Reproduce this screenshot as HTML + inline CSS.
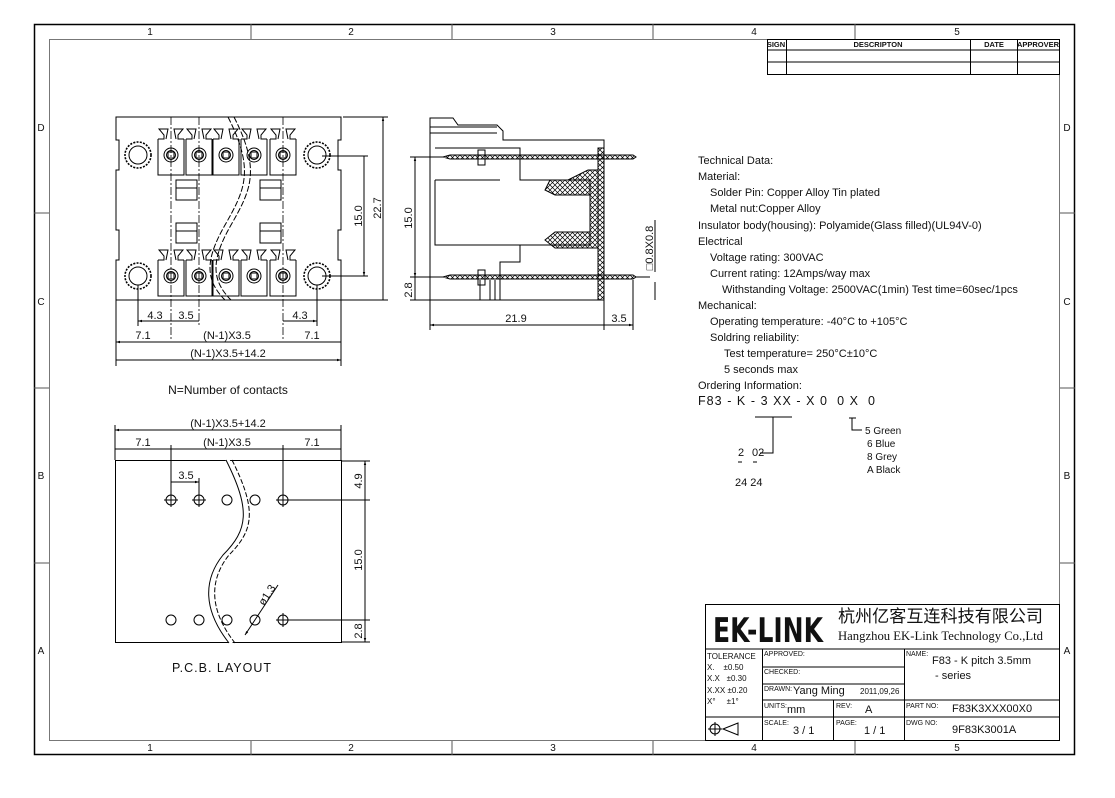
<!DOCTYPE html>
<html><head><meta charset="utf-8"><style>
html,body{margin:0;padding:0;background:#fff}
svg{display:block}
text{font-family:"Liberation Sans","Noto Sans CJK SC",sans-serif;fill:#111}
</style></head><body>
<svg width="1115" height="798" viewBox="0 0 1115 798" xmlns="http://www.w3.org/2000/svg">
<defs>
<pattern id="xh" width="5" height="5" patternUnits="userSpaceOnUse">
<path d="M0,0L5,5M5,0L0,5" stroke="#000" stroke-width="0.7"/></pattern>
<marker id="ar" viewBox="0 0 10 10" refX="10" refY="5" markerWidth="6" markerHeight="4" orient="auto-start-reverse"><path d="M0,2L10,5L0,8z" fill="#000"/></marker>
</defs>
<g fill="none" stroke="#000" stroke-width="1">
<rect x="34.5" y="24.5" width="1040" height="730" stroke-width="1.5"/>
<rect x="49.5" y="39.5" width="1010" height="701" stroke="#777"/>
<path d="M251,24V39M452,24V39M653,24V39M855,24V39M251,741V755M452,741V755M653,741V755M855,741V755M34,213H49M34,388H49M34,563H49M1060,213H1075M1060,388H1075M1060,563H1075" stroke="#555"/>
</g>
<g font-size="10" text-anchor="middle">
<text x="150" y="35">1</text><text x="351" y="35">2</text><text x="553" y="35">3</text><text x="754" y="35">4</text><text x="957" y="35">5</text>
<text x="150" y="751">1</text><text x="351" y="751">2</text><text x="553" y="751">3</text><text x="754" y="751">4</text><text x="957" y="751">5</text>
<text x="41" y="131">D</text><text x="41" y="305">C</text><text x="41" y="479">B</text><text x="41" y="654">A</text>
<text x="1067" y="131">D</text><text x="1067" y="305">C</text><text x="1067" y="479">B</text><text x="1067" y="654">A</text>
</g>
<g fill="none" stroke="#000" stroke-width="1">
<rect x="767.5" y="39.5" width="292" height="35"/>
<path d="M767,50H1060M767,62H1060M786.5,39V75M970.5,39V75M1017.5,39V75"/>
</g>
<g font-size="7.5" font-weight="bold" text-anchor="middle">
<text x="776" y="47">SIGN</text><text x="878" y="47">DESCRIPTON</text><text x="994" y="47">DATE</text><text x="1038" y="47">APPROVER</text>
</g>

<!-- FRONT VIEW -->
<g fill="none" stroke="#000" stroke-width="1">
<path d="M116,117H341V140H338V170H341V230H338V260H341V300H116V260H119V230H116V170H119V140H116Z"/>
<g id="tt">
<path d="M158,139V175H184V139M158,139H164V135L159,129H168L166,139M184,139H178V135L183,129H174L176,139"/>
<circle cx="171" cy="155" r="7"/><circle cx="171" cy="155" r="4.5"/><rect x="168" y="152" width="6" height="6"/>
</g>
<use href="#tt" x="28"/><use href="#tt" x="55"/><use href="#tt" x="83"/><use href="#tt" x="112"/>
<g id="tb">
<path d="M158,260V296H184V260M158,260H164V256L159,250H168L166,260M184,260H178V256L183,250H174L176,260"/>
<circle cx="171" cy="276" r="7"/><circle cx="171" cy="276" r="4.5"/><rect x="168" y="273" width="6" height="6"/>
</g>
<use href="#tb" x="28"/><use href="#tb" x="55"/><use href="#tb" x="83"/><use href="#tb" x="112"/>
<rect x="176" y="180" width="21" height="20"/><path d="M176,188H197"/>
<rect x="260" y="180" width="21" height="20"/><path d="M260,188H281"/>
<rect x="176" y="223" width="21" height="20"/><path d="M176,231H197"/>
<rect x="260" y="223" width="21" height="20"/><path d="M260,231H281"/>
<g id="mh"><circle cx="138" cy="155" r="13" stroke-dasharray="2 1.3" stroke-width="1.6"/><circle cx="138" cy="155" r="9"/></g>
<use href="#mh" y="121"/><use href="#mh" x="179"/><use href="#mh" x="179" y="121"/>
<path d="M228,117C255,170 245,190 225,225C205,260 205,280 225,300" stroke-dasharray="6 2"/>
<path d="M234,117C261,170 251,190 231,225C211,260 211,280 231,300" stroke-dasharray="6 2"/>
<path d="M171,117V340M199,117V325M283,117V340" stroke-dasharray="8 2 2 2" stroke-width="0.8"/>
<path d="M343,117H388M322,156H368M322,276H368M341,300H388"/>
<path d="M383,117V300M364,156V276" marker-start="url(#ar)" marker-end="url(#ar)"/>
<path d="M116,300V366M341,300V366M138,285V326M317,285V326"/>
<path d="M138,321H171M171,321H199M283,321H317" marker-start="url(#ar)" marker-end="url(#ar)"/>
<path d="M116,342H171M171,342H283M283,342H341M116,360H341" marker-start="url(#ar)" marker-end="url(#ar)"/>
</g>
<g font-size="11" text-anchor="middle">
<text x="155" y="319">4.3</text><text x="186" y="319">3.5</text><text x="300" y="319">4.3</text>
<text x="143" y="339">7.1</text><text x="227" y="339">(N-1)X3.5</text><text x="312" y="339">7.1</text>
<text x="228" y="357">(N-1)X3.5+14.2</text>
<text transform="translate(362,216) rotate(-90)">15.0</text>
<text transform="translate(381,208) rotate(-90)">22.7</text>
<text x="228" y="394" font-size="12">N=Number of contacts</text>
</g>

<!-- SIDE VIEW -->
<g fill="none" stroke="#000" stroke-width="1">
<path d="M430,118H453L458,125H497L503,131V140H604V300H430Z"/>
<path d="M430,127H497M430,133H497M435,148H520V180H590V245H520V262H500V300"/>
<path d="M435,180V245H520M435,180H500"/>
<rect x="598" y="148" width="6" height="152" fill="url(#xh)"/>
<path d="M598,170H588L568,180H550L545,190L555,195H590V232H555L545,240L555,248H598Z" fill="url(#xh)"/>
<path d="M443,157L450,155H633L636,157L633,159H450Z" fill="url(#xh)"/>
<path d="M443,277L450,275H633L636,277L633,279H450Z" fill="url(#xh)"/>
<rect x="478" y="150" width="7" height="15"/><rect x="478" y="270" width="7" height="15"/>
<path d="M480,280V300M490,280V300M495,280V300"/>
<path d="M410,157H443M410,277H443M410,300H430M636,277H650"/>
<path d="M415,157V277" marker-start="url(#ar)" marker-end="url(#ar)"/>
<path d="M415,277V300"/>
<path d="M430,300V330M604,300V330M633,280V330"/>
<path d="M430,325H604M604,325H633" marker-start="url(#ar)" marker-end="url(#ar)"/>
<path d="M655,220V272M655,282V300"/>
</g>
<g font-size="11" text-anchor="middle">
<text transform="translate(412,218) rotate(-90)">15.0</text>
<text transform="translate(412,290) rotate(-90)">2.8</text>
<text x="516" y="322">21.9</text><text x="619" y="322">3.5</text>
<text transform="translate(653,248) rotate(-90)">□0.8X0.8</text>
</g>

<!-- PCB LAYOUT -->
<g fill="none" stroke="#000" stroke-width="1">
<rect x="115.5" y="460.5" width="226" height="182"/>
<path d="M227,460C252,510 250,530 225,555C205,580 205,610 232,643" fill="#fff" stroke="#fff" stroke-width="5"/>
<path d="M226,460C251,510 248,530 223,555C203,580 203,610 229,643"/>
<path d="M232,460C257,510 254,530 229,555C209,580 209,610 235,643" stroke-dasharray="5 2"/>
<g id="hc"><circle cx="171" cy="500" r="5"/><path d="M164,500H178M171,493V507"/></g>
<use href="#hc" x="28"/><circle cx="227" cy="500" r="5"/><circle cx="255" cy="500" r="5"/><use href="#hc" x="112"/>
<circle cx="171" cy="620" r="5"/><circle cx="199" cy="620" r="5"/><circle cx="227" cy="620" r="5"/><circle cx="255" cy="620" r="5"/><use href="#hc" x="112" y="120"/>
<path d="M115,425V460M341,425V460M171,445V495M283,445V495M199,478V495"/>
<path d="M115,430H341M115,449H171M171,449H283M283,449H341M171,482H199" marker-start="url(#ar)" marker-end="url(#ar)"/>
<path d="M290,500H370M290,620H370M341,642H370M341,461H370"/>
<path d="M365,461V500M365,500V620M365,620V642" marker-start="url(#ar)" marker-end="url(#ar)"/>
<path d="M245,635L278,585" marker-start="url(#ar)"/>
</g>
<g font-size="11" text-anchor="middle">
<text x="228" y="427">(N-1)X3.5+14.2</text>
<text x="143" y="446">7.1</text><text x="227" y="446">(N-1)X3.5</text><text x="312" y="446">7.1</text>
<text x="186" y="479">3.5</text>
<text transform="translate(362,481) rotate(-90)">4.9</text>
<text transform="translate(362,560) rotate(-90)">15.0</text>
<text transform="translate(362,631) rotate(-90)">2.8</text>
<text transform="translate(270,597) rotate(-57)">ø1.3</text>
<text x="222" y="672" font-size="12.5" letter-spacing="1">P.C.B.  LAYOUT</text>
</g>

<!-- TECH TEXT -->
<g font-size="11">
<text x="698" y="164">Technical Data:</text>
<text x="698" y="180">Material:</text>
<text x="710" y="196">Solder Pin: Copper Alloy Tin plated</text>
<text x="710" y="212">Metal nut:Copper Alloy</text>
<text x="698" y="229">Insulator body(housing): Polyamide(Glass filled)(UL94V-0)</text>
<text x="698" y="245">Electrical</text>
<text x="710" y="261">Voltage rating: 300VAC</text>
<text x="710" y="277">Current rating: 12Amps/way max</text>
<text x="722" y="293">Withstanding Voltage: 2500VAC(1min) Test time=60sec/1pcs</text>
<text x="698" y="309">Mechanical:</text>
<text x="710" y="325">Operating temperature: -40°C to +105°C</text>
<text x="710" y="341">Soldring reliability:</text>
<text x="724" y="357">Test temperature= 250°C±10°C</text>
<text x="724" y="373">5 seconds max</text>
<text x="698" y="389">Ordering Information:</text>
<text x="698" y="405" font-size="12.5" xml:space="preserve" textLength="177" lengthAdjust="spacing">F83 - K - 3 XX - X 0  0 X  0</text>
<text x="738" y="456">2</text><text x="752" y="456">02</text>
<text x="735" y="486">24  24</text>
<text x="865" y="434" font-size="10">5  Green</text>
<text x="867" y="447" font-size="10">6  Blue</text>
<text x="867" y="460" font-size="10">8  Grey</text>
<text x="867" y="473" font-size="10">A  Black</text>
</g>
<g fill="none" stroke="#000" stroke-width="1">
<path d="M755,417H792M773,417V453H760M738,462H742M753,462H757"/>
<path d="M849,418H856M852,418V430H862"/>
</g>

<!-- TITLE BLOCK -->
<g fill="none" stroke="#000" stroke-width="1">
<rect x="705.5" y="604.5" width="354" height="136"/>
<path d="M705,649H1060M762.5,649V741M762,667H904M762,684H904M762,700H904M904,700H1060M705,717H1060M904.5,649V741M833.5,700V741"/>
<circle cx="715" cy="729" r="5"/><path d="M708,729H722M715,722V736M723,729L738,723V735Z"/>
</g>
<text x="713" y="642" font-size="34" font-weight="bold" style="font-family:'DejaVu Sans Condensed','Liberation Sans',sans-serif" textLength="110" lengthAdjust="spacingAndGlyphs">EK-LINK</text>
<text x="838" y="622" font-size="17" style="font-family:'Liberation Sans','Noto Sans CJK SC',sans-serif" textLength="205" lengthAdjust="spacingAndGlyphs">杭州亿客互连科技有限公司</text>
<text x="838" y="640" font-size="13" style="font-family:'Liberation Serif',serif" textLength="205" lengthAdjust="spacingAndGlyphs">Hangzhou EK-Link Technology Co.,Ltd</text>
<g font-size="7">
<text x="707" y="659" font-size="8">TOLERANCE</text>
<text x="707" y="670" font-size="8" xml:space="preserve">X.    ±0.50</text>
<text x="707" y="681" font-size="8" xml:space="preserve">X.X   ±0.30</text>
<text x="707" y="693" font-size="8" xml:space="preserve">X.XX ±0.20</text>
<text x="707" y="704" font-size="8" xml:space="preserve">X°     ±1°</text>
<text x="764" y="656">APPROVED:</text>
<text x="764" y="674">CHECKED:</text>
<text x="764" y="691">DRAWN:</text>
<text x="764" y="708">UNITS:</text>
<text x="836" y="708">REV:</text>
<text x="764" y="725">SCALE:</text>
<text x="836" y="725">PAGE:</text>
<text x="906" y="656">NAME:</text>
<text x="906" y="708">PART NO:</text>
<text x="906" y="725">DWG NO:</text>
</g>
<g font-size="11">
<text x="793" y="694">Yang Ming</text><text x="860" y="694" font-size="8">2011,09,26</text>
<text x="787" y="713">mm</text><text x="865" y="713">A</text>
<text x="793" y="734">3 / 1</text><text x="864" y="734">1 / 1</text>
<text x="932" y="664">F83 - K pitch 3.5mm</text>
<text x="935" y="679">- series</text>
<text x="952" y="712">F83K3XXX00X0</text>
<text x="952" y="733">9F83K3001A</text>
</g>
</svg>
</body></html>
